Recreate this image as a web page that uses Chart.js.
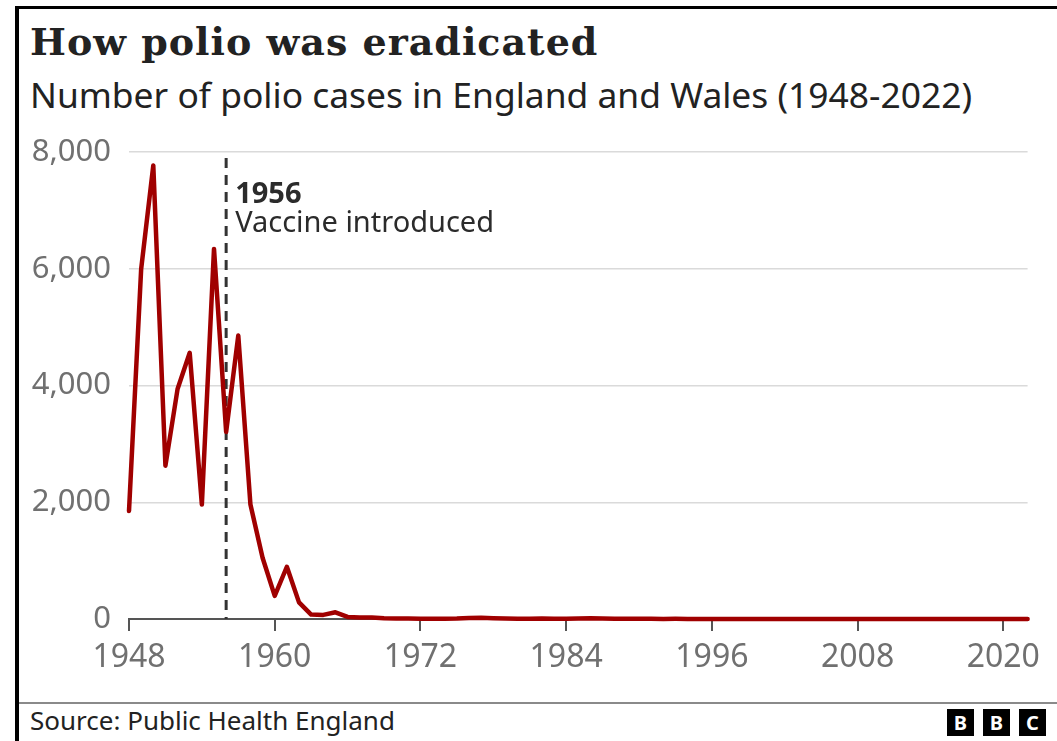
<!DOCTYPE html>
<html>
<head>
<meta charset="utf-8">
<script src="https://cdn.jsdelivr.net/npm/chart.js@4"></script>
<style>
  body { margin: 0; width: 1057px; height: 741px; background: #fff; overflow: hidden; position: relative; font-family: 'Noto Sans', sans-serif; }
  #frame { position: absolute; left: 15px; top: 6px; right: 0; bottom: 0; border-left: 4px solid #000; border-top: 3px solid #000; }
  #title { position: absolute; left: 30px; top: 23px; font: bold 38px/1 'DejaVu Serif', serif; letter-spacing: 1px; color: #222; white-space: nowrap; }
  #subtitle { position: absolute; left: 30px; top: 77px; font-size: 35.4px; line-height: 1; color: #222; white-space: nowrap; }
  #chart { position: absolute; left: 0; top: 130px; }
  #footline { position: absolute; left: 19px; right: 0; top: 702px; height: 2px; background: #8a8a8a; }
  #source { position: absolute; left: 30px; top: 707px; font-size: 26px; line-height: 1; color: #222; white-space: nowrap; }
  #logo { position: absolute; left: 947px; top: 709px; display: flex; gap: 9px; }
  #logo span { width: 27px; height: 27px; background: #000; color: #fff; font: bold 20px/27px 'Noto Sans', sans-serif; text-align: center; }
</style>
</head>
<body>
<div id="frame"></div>
<div id="title">How polio was eradicated</div>
<div id="subtitle">Number of polio cases in England and Wales (1948-2022)</div>
<canvas id="chart" width="1057" height="570"></canvas>
<div id="footline"></div>
<div id="source">Source: Public Health England</div>
<div id="logo"><span>B</span><span>B</span><span>C</span></div>
<script>
// Polio cases, England and Wales
const years = [];
for (let yr = 1948; yr <= 2022; yr++) years.push(yr);

const cases = [
  1850, 5990, 7770, 2625, 3940, 4560, 1960, 6340, 3205, 4855,   // 1948-1957
  1960, 1050, 395, 895, 285, 75, 70, 115, 35, 25,              // 1958-1967
  24, 12, 8, 8, 5, 6, 6, 8, 18, 22,                            // 1968-1977
  14, 10, 5, 6, 8, 5, 4, 10, 14, 8,                            // 1978-1987
  4, 4, 3, 3, 2, 3, 2, 2, 1, 2,                                // 1988-1997
  1, 1, 0, 1, 0, 0, 1, 0, 0, 0,                                // 1998-2007
  0, 0, 0, 0, 0, 0, 0, 0, 0, 0,                                // 2008-2017
  0, 0, 0, 0, 0                                                // 2018-2022
];

const xTicks = [1948, 1960, 1972, 1984, 1996, 2008, 2020];
const yTicks = [0, 2000, 4000, 6000, 8000];
const vaccineYear = 1956;

const tickColor = '#707070';

const vaccineLine = {
  id: 'vaccineLine',
  beforeDatasetsDraw(chart) {
    const { ctx, scales: { x, y } } = chart;
    const px = x.getPixelForValue(vaccineYear);
    ctx.save();
    ctx.strokeStyle = '#333';
    ctx.lineWidth = 3;
    ctx.setLineDash([10, 7]);
    ctx.beginPath();
    ctx.moveTo(px, y.top + 6);
    ctx.lineTo(px, y.bottom);
    ctx.stroke();
    ctx.restore();
  },
  afterDatasetsDraw(chart) {
    const { ctx, scales: { x, y } } = chart;
    const px = x.getPixelForValue(vaccineYear);
    ctx.save();
    ctx.fillStyle = '#2b2b2b';
    ctx.textBaseline = 'alphabetic';
    ctx.font = 'bold 29px "Noto Sans"';
    ctx.fillText(String(vaccineYear), px + 9, y.top + 51);
    ctx.font = '29px "Noto Sans"';
    ctx.fillText('Vaccine introduced', px + 9, y.top + 80);
    ctx.restore();
  }
};

new Chart(document.getElementById('chart'), {
  type: 'line',
  data: {
    datasets: [{
      data: years.map((yr, i) => ({ x: yr, y: cases[i] })),
      borderColor: '#a00000',
      borderWidth: 4.5,
      pointRadius: 0,
      tension: 0,
      borderJoinStyle: 'round',
      borderCapStyle: 'round',
      clip: false
    }]
  },
  options: {
    responsive: false,
    animation: false,
    layout: { padding: { top: 22, right: 29.4, left: 0, bottom: 0 } },
    plugins: { legend: { display: false }, tooltip: { enabled: false } },
    scales: {
      x: {
        type: 'linear',
        min: 1948,
        max: 2022,
        afterBuildTicks: s => { s.ticks = xTicks.map(v => ({ value: v })); },
        afterFit: s => { s.height = 81; s.paddingLeft = 0; s.paddingRight = 0; },
        grid: { drawOnChartArea: false, drawTicks: true, tickLength: 12, color: '#555', lineWidth: 2 },
        border: { display: true, color: '#555', width: 2 },
        ticks: {
          padding: 8,
          color: tickColor,
          font: { family: 'Noto Sans', size: 32 },
          maxRotation: 0,
          callback: v => String(v)
        }
      },
      y: {
        min: 0,
        max: 8000,
        afterBuildTicks: s => { s.ticks = yTicks.map(v => ({ value: v })); },
        afterFit: s => { s.width = 129; s.paddingTop = 0; s.paddingBottom = 0; },
        grid: { drawTicks: false, color: '#dadada', lineWidth: 1.5 },
        border: { display: false },
        ticks: {
          padding: 18,
          color: tickColor,
          font: { family: 'Noto Sans', size: 31 },
          callback: v => v.toLocaleString('en-US')
        }
      }
    }
  },
  plugins: [vaccineLine]
});
</script>
</body>
</html>
